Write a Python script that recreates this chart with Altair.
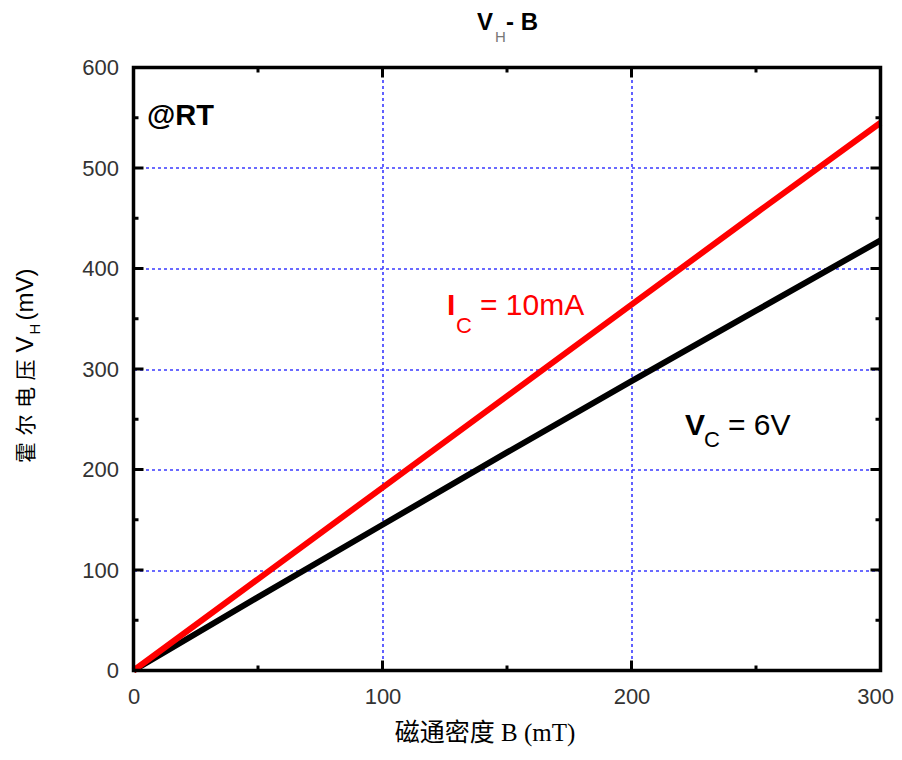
import altair as alt
import pandas as pd

# ---- data ----
B = [0, 50, 100, 150, 200, 250, 300]          # 磁通密度 B (mT)
VH_Ic = [0, 91, 182, 273, 364, 455, 545]      # I_C = 10mA
VH_Vc = [0, 73, 145, 217, 288, 358, 428]      # V_C = 6V
x_major = [0, 100, 200, 300]
x_minor = [50, 150, 250]
y_major = [0, 100, 200, 300, 400, 500, 600]
y_minor = [50, 150, 250, 350, 450, 550]
y_title_chars = ["霍", "尔", "电", "压"]

W, H = 747, 603

df = pd.DataFrame({
    "B": B + B,
    "V": VH_Vc + VH_Ic,
    "series": ["Vc"] * len(B) + ["Ic"] * len(B),
})

xs = alt.Scale(domain=[0, 300], nice=False, zero=False)
ys = alt.Scale(domain=[0, 600], nice=False, zero=False)

common_axis = dict(grid=True, domain=False, ticks=False, tickSize=0,
                   labelFont="Liberation Sans", labelFontSize=22,
                   labelColor="#333333", labelFlush=False,
                   labelOverlap=False, gridColor="#3a3aff", gridDash=[3, 3],
                   gridWidth=1.6, gridOpacity=1, title=None)
xaxis = alt.Axis(values=x_major, labelPadding=16,
                 labelAlign={"condition": {"test": "datum.value == 300", "value": "right"},
                             "value": "center"},
                 labelOffset={"condition": {"test": "datum.value == 300", "value": 13},
                              "value": 0},
                 **common_axis)
yaxis = alt.Axis(values=y_major, labelPadding=15, **common_axis)


def X(field="B"):
    return alt.X(f"{field}:Q", scale=xs, axis=xaxis)


def Y(field="V"):
    return alt.Y(f"{field}:Q", scale=ys, axis=yaxis)


base = alt.Chart(df)
line_black = base.transform_filter(alt.datum.series == "Vc").mark_line(
    color="black", strokeWidth=6).encode(x=X(), y=Y())
line_red = base.transform_filter(alt.datum.series == "Ic").mark_line(
    color="#ff0000", strokeWidth=6).encode(x=X(), y=Y())


def xticks(vals, y0, y1):
    return alt.Chart(pd.DataFrame({"B": vals})).mark_rule(
        color="black", strokeWidth=3).encode(
        x=X(), y=alt.value(y0), y2=alt.value(y1))


def yticks(vals, x0, x1):
    return alt.Chart(pd.DataFrame({"V": vals})).mark_rule(
        color="black", strokeWidth=3).encode(
        y=Y(), x=alt.value(x0), x2=alt.value(x1))


MAJ, MIN = 10, 5
ticks = [
    xticks(x_major, H, H - MAJ), xticks(x_minor, H, H - MIN),
    xticks(x_major, 0, MAJ), xticks(x_minor, 0, MIN),
    yticks(y_major, 0, MAJ), yticks(y_minor, 0, MIN),
    yticks(y_major, W, W - MAJ), yticks(y_minor, W, W - MIN),
]

frame = alt.Chart(pd.DataFrame({"k": [0]})).mark_rect(
    fill=None, stroke="black", strokeWidth=3.5).encode(
    x=alt.value(0), x2=alt.value(W), y=alt.value(0), y2=alt.value(H))


def txt(s, x, y, size, weight="normal", color="black",
        font="Liberation Sans", angle=0, align="left", baseline="alphabetic"):
    kw = dict(fontSize=size, fontWeight=weight, color=color, font=font,
              align=align, baseline=baseline)
    if angle:
        kw["angle"] = angle
    return alt.Chart(pd.DataFrame({"t": [s]})).mark_text(**kw).encode(
        text="t:N", x=alt.value(x), y=alt.value(y))


sans = "Liberation Sans"
serif_cjk = "Liberation Serif, Noto Sans CJK SC"
cjk = "Noto Sans CJK SC"

texts = [
    # chart title  V_H- B
    txt("V", 343.5, -37.5, 24, "bold"),
    txt("H", 361.5, -25.5, 15, color="#777777"),
    txt("- B", 372.5, -37.5, 24, "bold"),
    # x axis title
    txt("磁通密度 B (mT)", 351.5, 673.5, 25, font=serif_cjk, align="center"),
]
# y axis title (rotated, reading bottom to top)
yt_base = -100.5
for i, ch in enumerate(y_title_chars):
    texts.append(txt(ch, yt_base, 395.5 - 27.5 * i, 21, font=cjk, angle=270))
texts += [
    txt("V", yt_base, 285, 24, font=sans, angle=270),
    txt("H", -93.5, 267, 15, font=sans, angle=270),
    txt("(mV)", yt_base, 253, 24, font=sans, angle=270),
    # annotations
    txt("@RT", 13.5, 57.5, 29, "bold"),
    txt("I", 313.5, 247.5, 30, "bold", color="#ff0000"),
    txt("C", 322.5, 265.5, 22, color="#ff0000"),
    txt("= 10mA", 346.5, 247.5, 30, color="#ff0000"),
    txt("V", 551.5, 367.5, 30, "bold"),
    txt("C", 570.5, 379.5, 22),
    txt("= 6V", 594.5, 367.5, 30),
]

chart = alt.layer(line_black, line_red, *ticks, frame, *texts).properties(
    width=W, height=H,
    autosize=alt.AutoSizeParams(type="none"),
    padding={"left": 125.5, "top": 59.5, "right": 13, "bottom": 76},
).configure_view(stroke=None)

chart.save("out.html", embed_options={"renderer": "svg", "actions": False})
